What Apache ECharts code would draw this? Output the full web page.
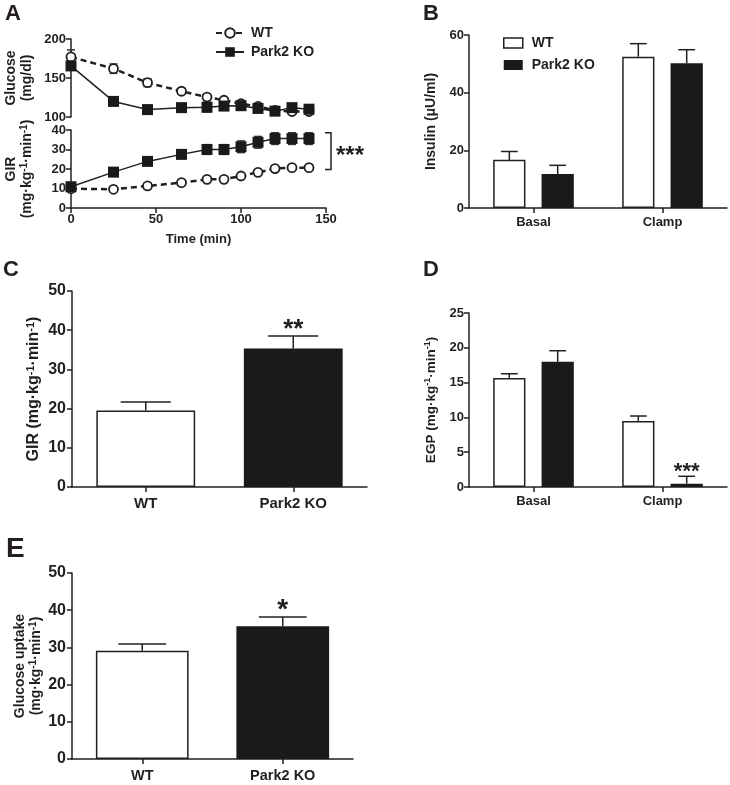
<!DOCTYPE html>
<html><head><meta charset="utf-8">
<script src="https://cdn.jsdelivr.net/npm/echarts@6/dist/echarts.min.js"></script>
<style>html,body{margin:0;padding:0;background:#fff}#c{width:730px;height:785px}</style>
</head><body><div id="c"></div>
<script>
// ---------- data ----------
const timePoints   = [0, 25, 45, 65, 80, 90, 100, 110, 120, 130, 140];
const glucoseWT    = [177, 162, 144, 133, 125.5, 121.5, 117, 113.5, 108.5, 107, 107];
const glucoseWTErr = [9, 6, 5, 4, 4, 3, 3, 3, 3, 3, 3];
const glucoseKO    = [165.5, 120, 109.5, 112, 112.5, 114, 114.5, 111, 107.5, 112, 110];
const glucoseKOErr = [5, 3, 3, 4, 6, 5, 4, 3, 3, 3, 3];
const girWT        = [9.9, 9.6, 11.3, 13, 14.7, 14.7, 16.4, 18.3, 20.2, 20.7, 20.7];
const girWTErr     = [1, 0.8, 1.5, 1, 1, 1, 1, 1, 1, 1.2, 1];
const girKO        = [10.9, 18.4, 23.9, 27.5, 30, 30, 31.4, 33.7, 35.6, 35.6, 35.6];
const girKOErr     = [1, 1, 1, 1.5, 2.5, 2.5, 3, 3, 3, 3, 3];
const sigA = '***';

const conditions = ['Basal', 'Clamp'];
const genotypes  = ['WT', 'Park2 KO'];

const insulinWT = [16.7, 52.5], insulinWTErr = [2.9, 4.5];
const insulinKO = [11.8, 50.2], insulinKOErr = [3.0, 4.7];

const girMean = [19.5, 35.3], girMeanErr = [2.2, 3.2], sigC = ['', '**'];

const egpWT = [15.67, 9.5],  egpWTErr = [0.6, 0.7],  sigDWT = ['', ''];
const egpKO = [17.98, 0.48], egpKOErr = [1.6, 1.06], sigDKO = ['', '***'];

const uptake = [29.1, 35.7], uptakeErr = [1.8, 2.5], sigE = ['', '*'];

// ---------- style ----------
const INK = '#231f20';
const BLACK = '#1a1a1a';
const FONT = '"Liberation Sans", Arial, Helvetica, sans-serif';

const chart = echarts.init(document.getElementById('c'), null, {renderer: 'canvas'});

function rich(size) {
  return {
    s: {fontSize: Math.round(size * 0.68), fontWeight: 'bold', fontFamily: FONT, color: INK, verticalAlign: 'top', lineHeight: size}
  };
}
function yAx(grid, min, max, interval, name, opts) {
  opts = opts || {};
  const fs = opts.fs || 13, nfs = opts.nfs || 13;
  return {
    type: 'value', gridIndex: grid, min: min, max: max, interval: interval,
    name: name, nameLocation: 'middle', nameRotate: 90, nameGap: opts.gap || 30,
    nameTextStyle: {fontSize: nfs, fontWeight: 'bold', fontFamily: FONT, color: INK, lineHeight: opts.lh || nfs + 2, rich: rich(nfs)},
    axisLine: {show: true, lineStyle: {color: INK, width: 1.5}},
    axisTick: {show: true, length: 5, lineStyle: {color: INK, width: 1.5}},
    splitLine: {show: false},
    axisLabel: {color: INK, fontWeight: 'bold', fontFamily: FONT, fontSize: fs, margin: opts.margin || 5}
  };
}
function xCat(grid, data, fs, margin) {
  return {
    type: 'category', gridIndex: grid, data: data,
    axisLine: {show: true, lineStyle: {color: INK, width: 1.5}},
    axisTick: {show: true, alignWithLabel: true, length: 5, lineStyle: {color: INK, width: 1.5}},
    axisLabel: {color: INK, fontWeight: 'bold', fontFamily: FONT, fontSize: fs, margin: margin}
  };
}

// error bars for bars (upper only)
function barErr(offFrac, capFrac, sig, sigSize) {
  return function (params, api) {
    const c = api.value(0), v = api.value(1), e = api.value(2);
    const p0 = api.coord([c, v]), p1 = api.coord([c, v + e]);
    const bw = api.size([1, 0])[0];
    const x = p0[0] + offFrac * bw, h = capFrac * bw;
    const ch = [
      {type: 'line', shape: {x1: x, y1: p0[1], x2: x, y2: p1[1]}, style: {stroke: INK, lineWidth: 1.5}},
      {type: 'line', shape: {x1: x - h, y1: p1[1], x2: x + h, y2: p1[1]}, style: {stroke: INK, lineWidth: 1.5}}
    ];
    const s = sig && sig[params.dataIndex];
    if (s) ch.push({type: 'text', x: x, y: p1[1] + 7, style: {text: s, fill: INK, fontSize: sigSize, fontWeight: 'bold', fontFamily: FONT, align: 'center', verticalAlign: 'bottom'}});
    return {type: 'group', children: ch};
  };
}
// symmetric error bars for lines
function lineErr(params, api) {
  const t = api.value(0), v = api.value(1), e = api.value(2);
  const lo = api.coord([t, v - e]), hi = api.coord([t, v + e]);
  const x = lo[0], h = 4;
  return {type: 'group', children: [
    {type: 'line', shape: {x1: x, y1: lo[1], x2: x, y2: hi[1]}, style: {stroke: '#333', lineWidth: 1.5}},
    {type: 'line', shape: {x1: x - h, y1: lo[1], x2: x + h, y2: lo[1]}, style: {stroke: '#333', lineWidth: 1.5}},
    {type: 'line', shape: {x1: x - h, y1: hi[1], x2: x + h, y2: hi[1]}, style: {stroke: '#333', lineWidth: 1.5}}
  ]};
}
function bracket(params, api) {
  const t = api.value(0), lo = api.value(1), hi = api.value(2);
  const a = api.coord([t, lo]), b = api.coord([t, hi]);
  const x = a[0] + 22;
  return {type: 'group', children: [
    {type: 'polyline', shape: {points: [[x - 6, b[1]], [x, b[1]], [x, a[1]], [x - 6, a[1]]]}, style: {stroke: INK, lineWidth: 1.5, fill: null}},
    {type: 'text', x: x + 5, y: (a[1] + b[1]) / 2 + 5, style: {text: sigA, fill: INK, fontSize: 24, fontWeight: 'bold', fontFamily: FONT, align: 'left', verticalAlign: 'middle'}}
  ]};
}
const zip = (xs, ys, es) => xs.map((x, i) => [x, ys[i], es[i]]);
const zipCat = (ys, es) => ys.map((y, i) => [i, y, es[i]]);

const letter = (t, l, top, fs) => ({text: t, left: l, top: top, padding: 0, textStyle: {fontSize: fs || 22, fontWeight: 'bold', fontFamily: FONT, color: INK}});

const wtBarStyle = {color: '#fff', borderColor: INK, borderWidth: 1.5};
const koBarStyle = {color: BLACK};

const option = {
  animation: false,
  backgroundColor: '#fff',
  title: [letter('A', 5, 3), letter('B', 423, 3), letter('C', 3, 259), letter('D', 423, 259), letter('E', 6, 535, 28)],
  legend: [
    {
      left: 210, top: 21, orient: 'vertical', itemWidth: 28, itemHeight: 12, itemGap: 5, selectedMode: false,
      textStyle: {fontSize: 14, fontWeight: 'bold', fontFamily: FONT, color: INK, padding: [0, 0, 0, 2]},
      data: ['WT', 'Park2 KO']
    },
    {
      left: 498, top: 31, orient: 'vertical', itemWidth: 19, itemHeight: 10, itemGap: 8, selectedMode: false,
      textStyle: {fontSize: 14, fontWeight: 'bold', fontFamily: FONT, color: INK, padding: [0, 0, 0, 4]},
      data: [
        {name: 'WT', icon: 'rect', itemStyle: {color: '#fff', borderColor: INK, borderWidth: 1.5}},
        {name: 'Park2 KO', icon: 'rect', itemStyle: {color: BLACK, borderWidth: 0}}
      ]
    }
  ],
  grid: [
    {left: 71, top: 39, width: 255, height: 78, outerBoundsMode: 'none'},
    {left: 71, top: 130, width: 255, height: 78, outerBoundsMode: 'none'},
    {left: 469, top: 35, width: 258, height: 173, outerBoundsMode: 'none'},
    {left: 72, top: 291, width: 295, height: 196, outerBoundsMode: 'none'},
    {left: 469, top: 313, width: 258, height: 174, outerBoundsMode: 'none'},
    {left: 72, top: 573, width: 281, height: 186, outerBoundsMode: 'none'}
  ],
  xAxis: [
    {type: 'value', gridIndex: 0, min: 0, max: 150, show: false},
    {type: 'value', gridIndex: 1, min: 0, max: 150, interval: 50,
      name: 'Time (min)', nameLocation: 'middle', nameGap: 25,
      nameTextStyle: {fontSize: 13, fontWeight: 'bold', fontFamily: FONT, color: INK},
      axisLine: {show: true, lineStyle: {color: INK, width: 1.5}},
      axisTick: {show: true, length: 5, lineStyle: {color: INK, width: 1.5}},
      splitLine: {show: false},
      axisLabel: {color: INK, fontWeight: 'bold', fontFamily: FONT, fontSize: 13, margin: 5}},
    xCat(2, conditions, 13, 8),
    xCat(3, genotypes, 15, 9),
    xCat(4, conditions, 13, 8),
    xCat(5, genotypes, 14.5, 9)
  ],
  yAxis: [
    yAx(0, 100, 200, 50, 'Glucose\n(mg/dl)', {gap: 36, nfs: 14, lh: 16}),
    yAx(1, 0, 40, 10, 'GIR\n(mg·kg{s|-1}·min{s|-1})', {gap: 36, nfs: 14, lh: 16}),
    yAx(2, 0, 60, 20, 'Insulin (μU/ml)', {gap: 30, nfs: 14}),
    yAx(3, 0, 50, 10, 'GIR (mg·kg{s|-1}·min{s|-1})', {gap: 29, nfs: 16, fs: 16, margin: 6}),
    yAx(4, 0, 25, 5, 'EGP (mg·kg{s|-1}·min{s|-1})', {gap: 30, nfs: 13.5}),
    yAx(5, 0, 50, 10, 'Glucose uptake\n(mg·kg{s|-1}·min{s|-1})', {gap: 27, nfs: 14, fs: 16, margin: 6, lh: 16})
  ],
  series: [
    // ---- A: glucose ----
    {type: 'custom', xAxisIndex: 0, yAxisIndex: 0, renderItem: lineErr, data: zip(timePoints, glucoseWT, glucoseWTErr), z: 1, silent: true},
    {type: 'custom', xAxisIndex: 0, yAxisIndex: 0, renderItem: lineErr, data: zip(timePoints, glucoseKO, glucoseKOErr), z: 1, silent: true},
    {name: 'WT', type: 'line', xAxisIndex: 0, yAxisIndex: 0, data: timePoints.map((t, i) => [t, glucoseWT[i]]),
      symbol: 'circle', symbolSize: 9, color: INK,
      lineStyle: {color: INK, width: 2.5, type: [6, 4]}, itemStyle: {color: '#fff', borderColor: INK, borderWidth: 1.8}, z: 3},
    {name: 'Park2 KO', type: 'line', xAxisIndex: 0, yAxisIndex: 0, data: timePoints.map((t, i) => [t, glucoseKO[i]]),
      symbol: 'rect', symbolSize: 11, color: BLACK,
      lineStyle: {color: INK, width: 1.5}, itemStyle: {color: BLACK}, z: 4},
    // ---- A: GIR ----
    {type: 'custom', xAxisIndex: 1, yAxisIndex: 1, renderItem: lineErr, data: zip(timePoints, girWT, girWTErr), z: 1, silent: true},
    {type: 'custom', xAxisIndex: 1, yAxisIndex: 1, renderItem: lineErr, data: zip(timePoints, girKO, girKOErr), z: 1, silent: true},
    {name: 'WT', type: 'line', xAxisIndex: 1, yAxisIndex: 1, data: timePoints.map((t, i) => [t, girWT[i]]),
      symbol: 'circle', symbolSize: 9, color: INK,
      lineStyle: {color: INK, width: 2.5, type: [6, 4]}, itemStyle: {color: '#fff', borderColor: INK, borderWidth: 1.8}, z: 3},
    {name: 'Park2 KO', type: 'line', xAxisIndex: 1, yAxisIndex: 1, data: timePoints.map((t, i) => [t, girKO[i]]),
      symbol: 'rect', symbolSize: 11, color: BLACK,
      lineStyle: {color: INK, width: 1.5}, itemStyle: {color: BLACK}, z: 4},
    {type: 'custom', xAxisIndex: 1, yAxisIndex: 1, renderItem: bracket, silent: true,
      data: [[timePoints[timePoints.length - 1], girWT[girWT.length - 1] - girWTErr[girWTErr.length - 1], girKO[girKO.length - 1] + girKOErr[girKOErr.length - 1]]]},
    // ---- B ----
    {name: 'WT', type: 'bar', xAxisIndex: 2, yAxisIndex: 2, data: insulinWT, barWidth: '25%', barGap: '50%', itemStyle: wtBarStyle},
    {name: 'Park2 KO', type: 'bar', xAxisIndex: 2, yAxisIndex: 2, data: insulinKO, barWidth: '25%', barGap: '50%', itemStyle: koBarStyle},
    {type: 'custom', xAxisIndex: 2, yAxisIndex: 2, renderItem: barErr(-0.1875, 0.065), data: zipCat(insulinWT, insulinWTErr), z: 3, silent: true},
    {type: 'custom', xAxisIndex: 2, yAxisIndex: 2, renderItem: barErr(0.1875, 0.065), data: zipCat(insulinKO, insulinKOErr), z: 3, silent: true},
    // ---- C ----
    {type: 'bar', xAxisIndex: 3, yAxisIndex: 3, barWidth: '67%',
      data: girMean.map((v, i) => ({value: v, itemStyle: i === 0 ? wtBarStyle : koBarStyle}))},
    {type: 'custom', xAxisIndex: 3, yAxisIndex: 3, renderItem: barErr(0, 0.17, sigC, 26), data: zipCat(girMean, girMeanErr), z: 3, silent: true},
    // ---- D ----
    {name: 'WT', type: 'bar', xAxisIndex: 4, yAxisIndex: 4, data: egpWT, barWidth: '25%', barGap: '50%', itemStyle: wtBarStyle},
    {name: 'Park2 KO', type: 'bar', xAxisIndex: 4, yAxisIndex: 4, data: egpKO, barWidth: '25%', barGap: '50%', itemStyle: koBarStyle},
    {type: 'custom', xAxisIndex: 4, yAxisIndex: 4, renderItem: barErr(-0.1875, 0.065, sigDWT, 22), data: zipCat(egpWT, egpWTErr), z: 3, silent: true},
    {type: 'custom', xAxisIndex: 4, yAxisIndex: 4, renderItem: barErr(0.1875, 0.065, sigDKO, 22), data: zipCat(egpKO, egpKOErr), z: 3, silent: true},
    // ---- E ----
    {type: 'bar', xAxisIndex: 5, yAxisIndex: 5, barWidth: '66%',
      data: uptake.map((v, i) => ({value: v, itemStyle: i === 0 ? wtBarStyle : koBarStyle}))},
    {type: 'custom', xAxisIndex: 5, yAxisIndex: 5, renderItem: barErr(0, 0.17, sigE, 28), data: zipCat(uptake, uptakeErr), z: 3, silent: true}
  ]
};
chart.setOption(option);
</script>
</body></html>
